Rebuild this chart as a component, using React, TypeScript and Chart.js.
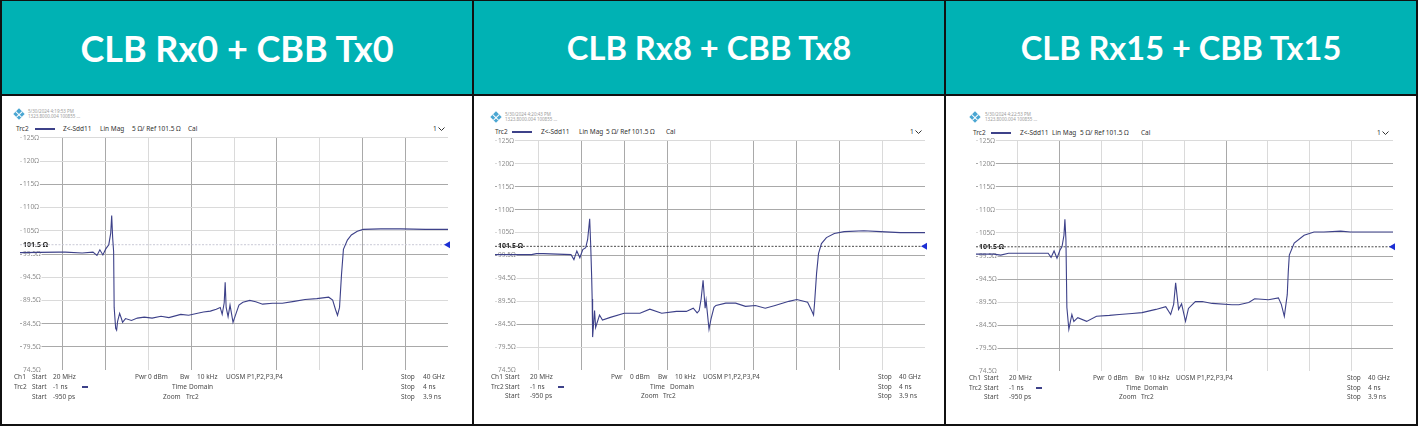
import React, { useEffect, useRef } from "react";
import { Chart, registerables } from "chart.js";
Chart.register(...registerables);

// ---------------- DATA ----------------
const titles = ["CLB Rx0 + CBB Tx0", "CLB Rx8 + CBB Tx8", "CLB Rx15 + CBB Tx15"];
const stamps = [
  ["5/30/2024 4:19:53 PM", "1323.8000.004 100855 ..."],
  ["5/30/2024 4:20:43 PM", "1323.8000.004 100855 ..."],
  ["5/30/2024 4:22:53 PM", "1323.8000.004 100855 ..."],
];
const timeStartNs = -0.95;
const timeStopNs = 3.9;
const timeDivNs = 0.485;
const refOhm = 101.5;
const refLabel = "101.5 Ω";
const yTickValues = [74.5, 79.5, 84.5, 89.5, 94.5, 99.5, 104.5, 109.5, 114.5, 119.5, 124.5];
const yTickLabels = ["74.5Ω", "79.5Ω", "84.5Ω", "89.5Ω", "94.5Ω", "99.5Ω", "105Ω", "110Ω", "115Ω", "120Ω", "125Ω"];
const traceHeader = ["Trc2", "Z<-Sdd11", "Lin Mag", "5 Ω/ Ref 101.5 Ω", "Cal"];

// Panel 1: CLB Rx0 + CBB Tx0 (time ns, impedance Ω)
const rx0TimeNs = [-0.95, -0.514, -0.436, -0.246, -0.123, -0.078, -0.045, -0.011, 0.022, 0.056, 0.078, 0.089, 0.1, 0.111, 0.117, 0.134, 0.145, 0.156, 0.179, 0.201, 0.212, 0.246, 0.313, 0.38, 0.458, 0.547, 0.648, 0.737, 0.872, 0.961, 1.05, 1.129, 1.207, 1.274, 1.319, 1.341, 1.364, 1.375, 1.386, 1.408, 1.43, 1.464, 1.486, 1.531, 1.576, 1.654, 1.721, 1.799, 1.911, 2.023, 2.157, 2.28, 2.414, 2.548, 2.593, 2.626, 2.648, 2.671, 2.693, 2.715, 2.76, 2.805, 2.872, 2.939, 3.14, 3.364, 3.643, 3.9];
const rx0Ohm = [99.8, 99.9, 99.9, 99.7, 99.9, 99.2, 100.4, 99.3, 100.6, 101.5, 104, 107.8, 103, 100, 88, 83.5, 83.1, 85, 86.7, 85.5, 84.8, 85.6, 85.2, 85.7, 85.9, 85.7, 86.1, 85.8, 86.5, 86.3, 86.7, 87.0, 87.2, 87.6, 88.0, 86.5, 89, 93.4, 88, 86, 88.5, 84.8, 86, 88.5, 89.1, 89.5, 89.2, 88.7, 88.9, 88.9, 89.3, 89.7, 89.9, 90.2, 89.6, 87.5, 86.3, 88, 95, 100.5, 102.5, 103.6, 104.4, 104.8, 104.9, 104.9, 104.8, 104.8];

// Panel 2: CLB Rx8 + CBB Tx8
const rx8TimeNs = [-0.95, -0.661, -0.538, -0.483, -0.405, -0.093, -0.06, -0.027, 0.007, 0.04, 0.073, 0.095, 0.118, 0.129, 0.14, 0.146, 0.151, 0.173, 0.185, 0.229, 0.262, 0.351, 0.507, 0.685, 0.796, 0.93, 1.097, 1.208, 1.286, 1.33, 1.353, 1.375, 1.397, 1.42, 1.431, 1.464, 1.486, 1.52, 1.542, 1.653, 1.764, 1.875, 1.987, 2.098, 2.209, 2.365, 2.454, 2.576, 2.621, 2.643, 2.654, 2.677, 2.699, 2.732, 2.788, 2.877, 2.988, 3.21, 3.399, 3.621, 3.9];
const rx8Ohm = [99.7, 99.7, 99.7, 99.9, 99.9, 99.7, 98.6, 100.5, 99.0, 100.8, 101.2, 103, 107.5, 102, 95, 90, 81.7, 87.5, 83.8, 86.5, 85.4, 86.0, 86.9, 86.9, 87.8, 86.9, 87.3, 87.3, 88.0, 87.0, 87.5, 90, 94.1, 88, 89.7, 83.4, 85.6, 88.2, 88.6, 89.1, 89.1, 88.4, 88.6, 88.0, 88.6, 89.5, 89.9, 89.3, 87.5, 86.5, 89, 95.6, 99.9, 102.1, 103.4, 104.3, 104.7, 104.9, 104.7, 104.5, 104.5];

// Panel 3: CLB Rx15 + CBB Tx15
const rx15TimeNs = [-0.95, -0.743, -0.663, -0.571, -0.111, -0.077, -0.042, -0.008, 0.027, 0.05, 0.073, 0.084, 0.096, 0.107, 0.13, 0.165, 0.188, 0.234, 0.337, 0.452, 0.602, 0.716, 0.866, 0.981, 1.142, 1.257, 1.314, 1.349, 1.372, 1.406, 1.441, 1.487, 1.521, 1.601, 1.682, 1.797, 2.027, 2.107, 2.222, 2.291, 2.452, 2.567, 2.601, 2.636, 2.67, 2.682, 2.694, 2.751, 2.866, 2.981, 3.096, 3.291, 3.406, 3.9];
const rx15Ohm = [99.9, 99.9, 99.7, 100.1, 100.1, 99.2, 100.6, 99.0, 100.8, 101.5, 104, 107.5, 103, 88.3, 83.6, 86.8, 85.3, 86.1, 85.3, 86.4, 86.6, 86.8, 87.0, 87.2, 87.9, 88.5, 86.8, 89, 93.7, 87.9, 89.1, 85.3, 88.1, 89.6, 89.6, 89.2, 88.9, 88.9, 89.4, 90.2, 90.0, 90.4, 89.0, 86.4, 91.1, 96.1, 99.7, 102.3, 104.0, 104.7, 104.7, 104.9, 104.7, 104.7];

const traces = [
  [rx0TimeNs, rx0Ohm],
  [rx8TimeNs, rx8Ohm],
  [rx15TimeNs, rx15Ohm],
];

// ---------------- LAYOUT / STYLE ----------------
const FONT = "'Noto Sans', 'DejaVu Sans', sans-serif";
const TEAL = "#00b2b4";
const TRACE = "#3d4189";
const GRID = ["rgba(0,0,0,0)", "#dadada", "#a9a9a9"];

const PANELS = [
  {
    box: [2, 470], titleSize: 36,
    plot: { l: 14, r: 448, t: 137, b: 371 },
    logo: [19, 114], stamp: [28, 111, 116],
    trcY: 129, trc: [16, 35, 55, 63, 100, 132, 188], menu: 433,
    rowsY: [377, 387, 397],
    cols: { c0: 14, c1: 32, c2: 53, dash: 82, pwr: 135, dbm: 148, bw: 180, khz: 197, uosm: 226, time: 172, domain: 189, zoom: 163, ztrc: 186, stop: 401, sval: 423 },
    vGrid: [0, 2, 2, 1, 2, 1, 2, 1, 2, 2, 0],
    hGrid: [0, 2, 2, 1, 1, 2, 1, 1, 2, 1, 1],
    refColor: "#c9c9d6",
  },
  {
    box: [474, 470], titleSize: 32.7,
    plot: { l: 489, r: 925, t: 140, b: 371 },
    logo: [496, 117], stamp: [505, 114, 119],
    trcY: 132, trc: [495, 512, 532, 541, 579, 606, 666], menu: 910,
    rowsY: [377, 387, 396],
    cols: { c0: 491, c1: 505, c2: 530, dash: 558, pwr: 611, dbm: 630, bw: 658, khz: 675, uosm: 703, time: 650, domain: 670, zoom: 641, ztrc: 663, stop: 878, sval: 899 },
    vGrid: [0, 1, 2, 2, 2, 1, 2, 2, 2, 1, 0],
    hGrid: [0, 1, 2, 1, 1, 2, 1, 2, 2, 1, 1],
    refColor: "#4a4a4a",
  },
  {
    box: [946, 470], titleSize: 32.5,
    plot: { l: 970, r: 1393, t: 140, b: 372 },
    logo: [975, 117], stamp: [985, 114, 119],
    trcY: 133, trc: [973, 991, 1011, 1020, 1052, 1080, 1141], menu: 1377,
    rowsY: [378, 388, 397],
    cols: { c0: 969, c1: 984, c2: 1009, dash: 1036, pwr: 1093, dbm: 1108, bw: 1135, khz: 1149, uosm: 1176, time: 1126, domain: 1144, zoom: 1119, ztrc: 1141, stop: 1347, sval: 1368 },
    vGrid: [0, 1, 2, 1, 1, 1, 2, 1, 1, 1, 0],
    hGrid: [0, 2, 2, 1, 2, 2, 1, 1, 2, 2, 1],
    refColor: "#4a4a4a",
  },
];

const PAD = { left: 2, right: 6, top: 6, bottom: 6 };
const ROW_SIZE = 6.5;
const HDR_SIZE = 6.5;

function Txt(props: { x: number; y: number; s: string; size?: number; color?: string; weight?: number }) {
  const { x, y, s, size = ROW_SIZE, color = "#4a4a4a", weight = 400 } = props;
  return (
    <div
      style={{
        position: "absolute", left: x, top: y, transform: "translateY(-50%)",
        fontFamily: FONT, fontSize: size, color, fontWeight: weight,
        whiteSpace: "nowrap", lineHeight: 1,
      }}
    >
      {s}
    </div>
  );
}

function TdrChart({ idx }: { idx: number }) {
  const ref = useRef<HTMLCanvasElement>(null);
  const p = PANELS[idx];
  const w = p.plot.r - p.plot.l + PAD.left + PAD.right;
  const h = p.plot.b - p.plot.t + PAD.top + PAD.bottom;
  useEffect(() => {
    const [ts, zs] = traces[idx];
    const data = ts.map((t, i) => ({ x: t, y: zs[i] }));
    const xGridValues: number[] = [];
    for (let i = 0; i <= 10; i++) xGridValues.push(timeStartNs + i * timeDivNs);
    const chart = new Chart(ref.current!, {
      type: "line",
      data: {
        datasets: [
          { data, borderColor: TRACE, borderWidth: 1.1, pointRadius: 0, tension: 0, order: 1 } as any,
          {
            data: [{ x: timeStartNs, y: refOhm }, { x: timeStopNs, y: refOhm }],
            borderColor: p.refColor, borderWidth: 1, borderDash: [2, 1.5], pointRadius: 0, order: 2,
          } as any,
          {
            data: [{ x: timeStopNs, y: refOhm }], showLine: false, pointStyle: "triangle",
            rotation: -90, pointRadius: 4, backgroundColor: "#1c2fd4", borderColor: "#1c2fd4",
            borderWidth: 0, clip: false, order: 0,
          } as any,
        ],
      },
      options: {
        animation: false,
        responsive: false,
        events: [],
        layout: { padding: PAD },
        plugins: { legend: { display: false }, tooltip: { enabled: false } },
        scales: {
          x: {
            type: "linear", min: timeStartNs, max: timeStopNs,
            afterBuildTicks: (s: any) => { s.ticks = xGridValues.map((v) => ({ value: v })); },
            ticks: { display: false },
            grid: { drawTicks: false, lineWidth: 1, color: (c: any) => GRID[p.vGrid[c.index] ?? 0] },
            border: { display: false },
          },
          y: {
            type: "linear", min: yTickValues[0], max: yTickValues[yTickValues.length - 1],
            afterBuildTicks: (s: any) => {
              s.ticks = [...yTickValues, refOhm].sort((a, b) => a - b).map((v) => ({ value: v }));
            },
            ticks: {
              mirror: true, padding: 3, autoSkip: false,
              callback: (v: any) => (v === refOhm ? refLabel : yTickLabels[yTickValues.indexOf(v)]),
              color: (c: any) => (c.tick && c.tick.value === refOhm ? "#2a2a2a" : "#8c8c8c"),
              font: (c: any) => ({ family: FONT, size: c.tick && c.tick.value === refOhm ? 7 : 6.5, weight: c.tick && c.tick.value === refOhm ? "bold" : "normal" }),
              showLabelBackdrop: true, backdropColor: "#ffffff", backdropPadding: { x: 1, y: 0 },
            } as any,
            grid: {
              drawTicks: false, lineWidth: 1,
              color: (c: any) => {
                const v = c.tick ? c.tick.value : 0;
                if (v === refOhm) return GRID[0];
                const i = yTickValues.indexOf(v);
                return GRID[p.hGrid[i] ?? 0];
              },
            },
            border: { display: false },
          },
        },
      } as any,
    });
    return () => chart.destroy();
  }, [idx]);
  return (
    <canvas
      ref={ref}
      width={w}
      height={h}
      style={{ position: "absolute", left: p.plot.l - PAD.left, top: p.plot.t - PAD.top, width: w, height: h }}
    />
  );
}

function Panel({ idx }: { idx: number }) {
  const p = PANELS[idx];
  const c = p.cols;
  const [r1, r2, r3] = p.rowsY;
  return (
    <>
      <div style={{ position: "absolute", left: p.box[0], top: 1, width: p.box[1], height: 93, background: TEAL, display: "flex", alignItems: "center", justifyContent: "center" }}>
        <span style={{ fontFamily: "Lato, 'Open Sans', sans-serif", fontWeight: 700, fontSize: p.titleSize, color: "#ffffff", whiteSpace: "nowrap" }}>{titles[idx]}</span>
      </div>
      <div style={{ position: "absolute", left: p.box[0], top: 96, width: p.box[1], height: 328, background: "#ffffff" }} />
      {/* logo */}
      <div style={{ position: "absolute", left: p.logo[0] - 4, top: p.logo[1] - 4, width: 8, height: 8, background: "#4aa6d2", transform: "rotate(45deg)" }}>
        <div style={{ position: "absolute", left: 3.5, top: 0, width: 1, height: 8, background: "#ffffff" }} />
        <div style={{ position: "absolute", left: 0, top: 3.5, width: 8, height: 1, background: "#ffffff" }} />
      </div>
      <Txt x={p.stamp[0]} y={p.stamp[1]} s={stamps[idx][0]} size={4.5} color="#9a9a9a" />
      <Txt x={p.stamp[0]} y={p.stamp[2]} s={stamps[idx][1]} size={4.5} color="#9a9a9a" />
      {/* trace header */}
      <Txt x={p.trc[0]} y={p.trcY} s={traceHeader[0]} size={HDR_SIZE} color="#333" />
      <div style={{ position: "absolute", left: p.trc[1], top: p.trcY - 1, width: p.trc[2] - p.trc[1], height: 1.5, background: TRACE }} />
      <Txt x={p.trc[3]} y={p.trcY} s={traceHeader[1]} size={HDR_SIZE} color="#333" />
      <Txt x={p.trc[4]} y={p.trcY} s={traceHeader[2]} size={HDR_SIZE} color="#333" />
      <Txt x={p.trc[5]} y={p.trcY} s={traceHeader[3]} size={HDR_SIZE} color="#333" />
      <Txt x={p.trc[6]} y={p.trcY} s={traceHeader[4]} size={HDR_SIZE} color="#333" />
      <Txt x={p.menu} y={p.trcY} s="1" size={HDR_SIZE} color="#333" />
      <svg style={{ position: "absolute", left: p.menu + 5, top: p.trcY - 2 }} width="7" height="4">
        <polyline points="0.5,0.5 3.5,3.5 6.5,0.5" fill="none" stroke="#333" strokeWidth="1" />
      </svg>
      <TdrChart idx={idx} />
      {/* bottom rows */}
      <Txt x={c.c0} y={r1} s="Ch1" />
      <Txt x={c.c1} y={r1} s="Start" />
      <Txt x={c.c2} y={r1} s="20 MHz" />
      <Txt x={c.pwr} y={r1} s="Pwr" />
      <Txt x={c.dbm} y={r1} s="0 dBm" />
      <Txt x={c.bw} y={r1} s="Bw" />
      <Txt x={c.khz} y={r1} s="10 kHz" />
      <Txt x={c.uosm} y={r1} s="UOSM P1,P2,P3,P4" />
      <Txt x={c.stop} y={r1} s="Stop" />
      <Txt x={c.sval} y={r1} s="40 GHz" />
      <Txt x={c.c0} y={r2} s="Trc2" />
      <Txt x={c.c1} y={r2} s="Start" />
      <Txt x={c.c2} y={r2} s="-1 ns" />
      <div style={{ position: "absolute", left: c.dash, top: r2 - 1, width: 6, height: 1.5, background: TRACE }} />
      <Txt x={c.time} y={r2} s="Time" />
      <Txt x={c.domain} y={r2} s="Domain" />
      <Txt x={c.stop} y={r2} s="Stop" />
      <Txt x={c.sval} y={r2} s="4 ns" />
      <Txt x={c.c1} y={r3} s="Start" />
      <Txt x={c.c2} y={r3} s="-950 ps" />
      <Txt x={c.zoom} y={r3} s="Zoom" />
      <Txt x={c.ztrc} y={r3} s="Trc2" />
      <Txt x={c.stop} y={r3} s="Stop" />
      <Txt x={c.sval} y={r3} s="3.9 ns" />
    </>
  );
}

export default function App() {
  return (
    <div style={{ position: "absolute", left: 0, top: 0, width: 1418, height: 426, background: "#111111", overflow: "hidden" }}>
      <Panel idx={0} />
      <Panel idx={1} />
      <Panel idx={2} />
    </div>
  );
}
